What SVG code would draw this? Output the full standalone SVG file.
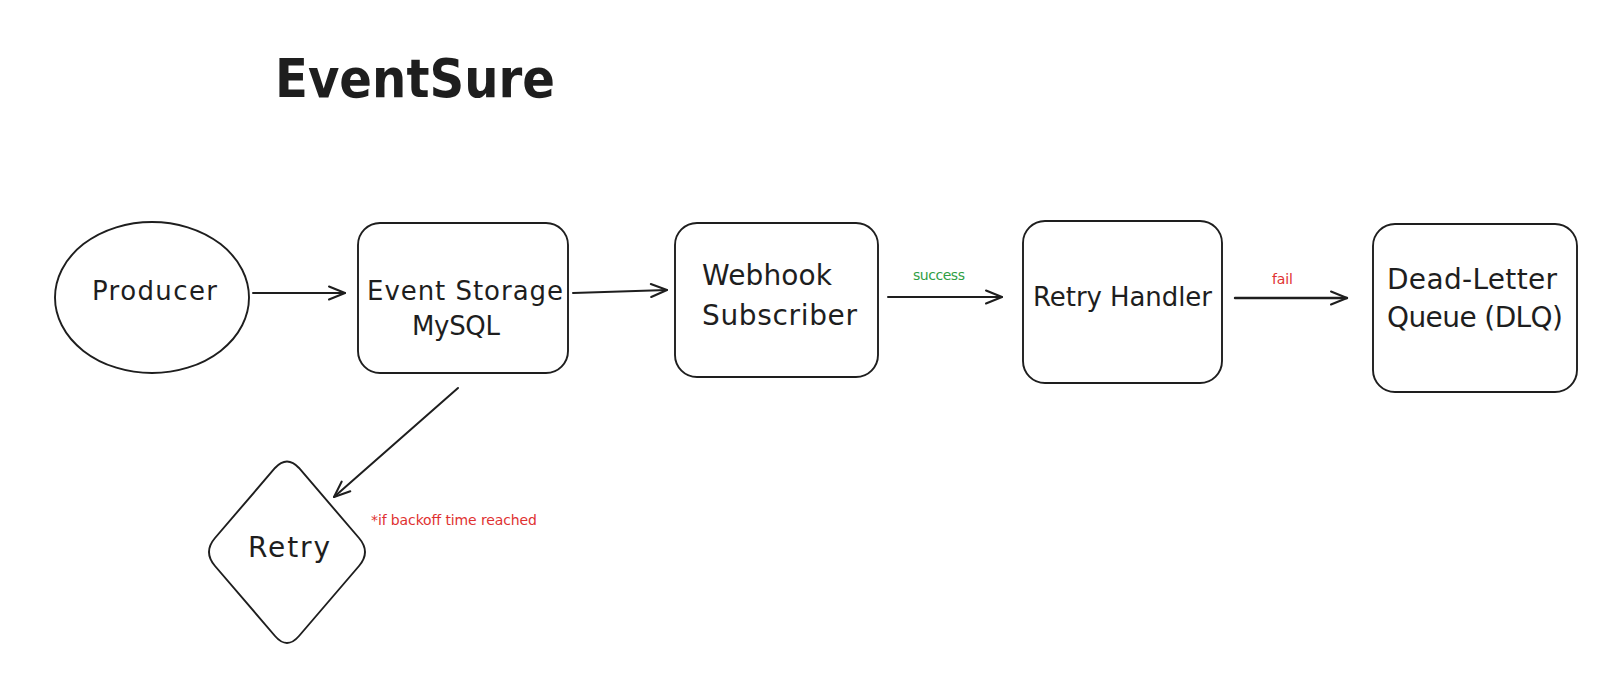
<svg xmlns="http://www.w3.org/2000/svg" width="1612" height="693" viewBox="0 0 1612 693">
<style>
  .shape { fill: none; stroke: #1e1e1e; stroke-width: 1.9; }
  .edge { fill: none; stroke: #1e1e1e; stroke-width: 2; stroke-linecap: round; }
  .lbl { font-family: "DejaVu Sans", "Liberation Sans", sans-serif; font-size: 26px; fill: #1e1e1e; }
  .big { font-size: 28px; }
  .small { font-family: "DejaVu Sans", "Liberation Sans", sans-serif; font-size: 14px; }
  .title { font-family: "DejaVu Sans", "Liberation Sans", sans-serif; font-size: 54px; font-weight: bold; fill: #1e1e1e; }
</style>
<defs>
  <marker id="arr" markerUnits="userSpaceOnUse" viewBox="-18 -9 20 18" refX="0" refY="0" markerWidth="20" markerHeight="18" orient="auto">
    <path d="M-16,-6.5 L0,0 L-16,6.5" fill="none" stroke="#1e1e1e" stroke-width="2" stroke-linecap="round" stroke-linejoin="round"/>
  </marker>
</defs>
<rect width="1612" height="693" fill="#ffffff"/>

<g id="title">
  <text class="title" x="275" y="97" textLength="280" lengthAdjust="spacingAndGlyphs">EventSure</text>
</g>

<g id="connectors">
  <line class="edge" x1="253" y1="293" x2="345" y2="293" marker-end="url(#arr)"/>
  <line class="edge" x1="573" y1="293" x2="667" y2="290" marker-end="url(#arr)"/>
  <line class="edge" x1="888" y1="297" x2="1002" y2="297" marker-end="url(#arr)"/>
  <line class="edge" x1="1235" y1="298" x2="1347" y2="298" marker-end="url(#arr)" style="stroke-width:2.4"/>
  <line class="edge" x1="458" y1="388" x2="334" y2="497" marker-end="url(#arr)"/>
  <text class="small" x="913" y="280" fill="#2f9e44" textLength="52">success</text>
  <text class="small" x="1272" y="284" fill="#e03131" textLength="21">fail</text>
  <text class="small" x="371" y="525" fill="#e03131" textLength="166">*if backoff time reached</text>
</g>

<g id="producer">
  <ellipse class="shape" cx="152" cy="297.5" rx="97" ry="75.5"/>
  <text class="lbl" x="92" y="300" textLength="125">Producer</text>
</g>

<g id="event-storage">
  <rect class="shape" x="358" y="223" width="210" height="150" rx="22"/>
  <text class="lbl" x="367" y="300" textLength="196">Event Storage</text>
  <text class="lbl" x="412" y="335" textLength="88">MySQL</text>
</g>

<g id="webhook-subscriber">
  <rect class="shape" x="675" y="223" width="203" height="154" rx="22"/>
  <text class="lbl big" x="702" y="285" textLength="130">Webhook</text>
  <text class="lbl big" x="702" y="325" textLength="155">Subscriber</text>
</g>

<g id="retry-handler">
  <rect class="shape" x="1023" y="221" width="199" height="162" rx="22"/>
  <text class="lbl" x="1033" y="306" textLength="179">Retry Handler</text>
</g>

<g id="dlq">
  <rect class="shape" x="1373" y="224" width="204" height="168" rx="22"/>
  <text class="lbl big" x="1387" y="289" textLength="170">Dead-Letter</text>
  <text class="lbl big" x="1387" y="327" textLength="176">Queue (DLQ)</text>
</g>

<g id="retry">
  <path class="shape" d="M275,468 Q287,455 299,468 L359,538 Q371,552 359,566 L299,636 Q287,650 275,636 L215,566 Q203,552 215,538 Z"/>
  <text class="lbl big" x="248" y="557" textLength="82">Retry</text>
</g>
</svg>
